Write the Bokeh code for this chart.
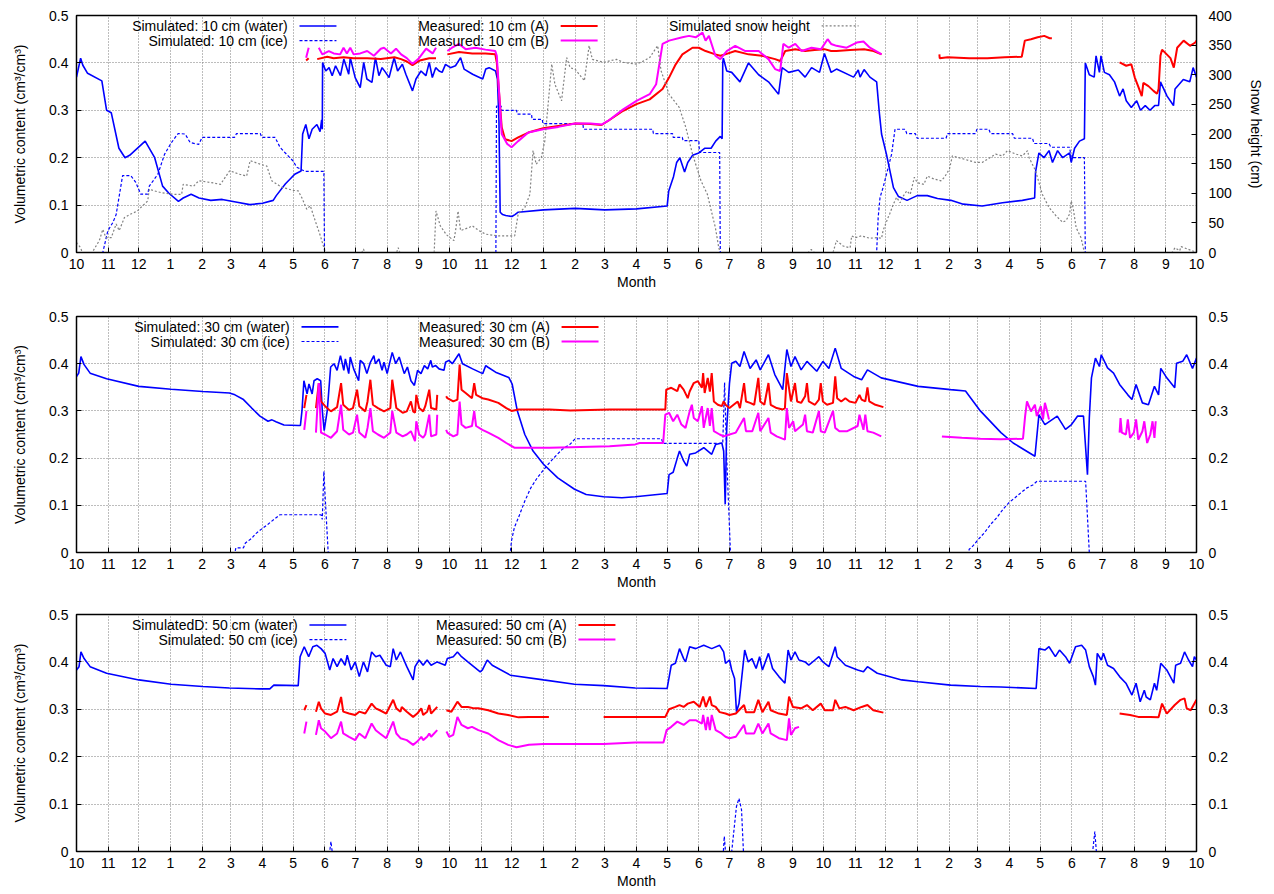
import datetime
import numpy as np
from bokeh.plotting import figure
from bokeh.models import Range1d, LinearAxis, FixedTicker, Label
from bokeh.layouts import column
from bokeh.embed import file_html
from bokeh.resources import INLINE

NAN = float("nan")

# ---------------- axis labels ----------------
MONTH_LABELS = [10, 11, 12, 1, 2, 3, 4, 5, 6, 7, 8, 9,
                10, 11, 12, 1, 2, 3, 4, 5, 6, 7, 8, 9,
                10, 11, 12, 1, 2, 3, 4, 5, 6, 7, 8, 9, 10]
VOL_TICKS = [0, 0.1, 0.2, 0.3, 0.4, 0.5]
SNOW_TICKS = [0, 50, 100, 150, 200, 250, 300, 350, 400]

# ---------------- data: x = months since first October (fractional) ----------------
# Panel 1 : 10 cm
W10_M = [0.0, 0.13, 0.2, 0.35, 0.8, 0.95, 1.1, 1.35, 1.55, 1.7, 2.2, 2.5, 2.75, 2.95, 3.25, 3.4, 3.65, 3.9,
         4.3, 4.7, 5.2, 5.6, 6.0, 6.35, 6.45, 6.75, 7.05, 7.25, 7.3, 7.4, 7.5, 7.6, 7.75, 7.85, 7.9, 7.92,
         7.93, 8.03, 8.14, 8.24, 8.35, 8.51, 8.62, 8.78, 8.83, 8.99, 9.15, 9.26, 9.36, 9.52, 9.63, 9.74,
         9.84, 9.95, 10.06, 10.22, 10.33, 10.48, 10.59, 10.8, 10.91, 11.07, 11.23, 11.34, 11.44, 11.55,
         11.66, 11.76, 11.87, 12.03, 12.19, 12.35, 12.46, 12.73, 13.05, 13.15, 13.26, 13.47, 13.53, 13.58,
         13.62, 13.7, 13.8, 14.0, 14.1, 14.2, 15.0, 16.0, 17.0, 18.0, 19.0, 19.05, 19.2, 19.3, 19.4, 19.55,
         19.65, 19.8, 20.0, 20.2, 20.4, 20.55, 20.7, 20.76, 20.78, 20.8, 20.91, 21.07, 21.33, 21.6, 21.92,
         22.23, 22.55, 22.66, 22.87, 23.18, 23.4, 23.61, 23.87, 24.03, 24.24, 24.41, 24.95, 25.1, 25.16,
         25.29, 25.48, 25.7, 25.78, 25.86, 26.02, 26.24, 26.4, 26.67, 26.99, 27.31, 27.63, 28.06, 28.49,
         29.14, 29.78, 30.42, 30.82, 30.85, 30.96, 31.12, 31.28, 31.39, 31.55, 31.71, 31.93, 31.98, 32.09,
         32.25, 32.41, 32.44, 32.57, 32.73, 32.79, 32.9, 32.95, 33.06, 33.22, 33.38, 33.54, 33.65, 33.75,
         33.91, 34.08, 34.2, 34.35, 34.5, 34.65, 34.77, 34.83, 35.04, 35.25, 35.3, 35.57, 35.78, 35.89,
         36.0]
W10_V = [0.37, 0.41, 0.395, 0.378, 0.362, 0.30, 0.295, 0.22, 0.2, 0.205, 0.235, 0.2, 0.14, 0.125, 0.108,
         0.115, 0.123, 0.115, 0.11, 0.112, 0.106, 0.101, 0.104, 0.11, 0.12, 0.145, 0.165, 0.172, 0.25,
         0.27, 0.24, 0.26, 0.27, 0.255, 0.28, 0.26, 0.401, 0.383, 0.39, 0.373, 0.394, 0.373, 0.408, 0.376,
         0.411, 0.369, 0.348, 0.401, 0.366, 0.359, 0.411, 0.373, 0.39, 0.38, 0.369, 0.411, 0.383, 0.397,
         0.376, 0.341, 0.366, 0.383, 0.373, 0.401, 0.369, 0.39, 0.383, 0.38, 0.397, 0.39, 0.394, 0.411,
         0.387, 0.376, 0.366, 0.387, 0.39, 0.383, 0.366, 0.278, 0.085, 0.08, 0.078, 0.076, 0.08, 0.085,
         0.09, 0.093, 0.09, 0.092, 0.098, 0.13, 0.16, 0.19, 0.2, 0.17, 0.19, 0.205, 0.21, 0.22, 0.22,
         0.235, 0.245, 0.24, 0.40, 0.41, 0.383, 0.38, 0.36, 0.40, 0.375, 0.36, 0.334, 0.39, 0.38, 0.385,
         0.37, 0.39, 0.38, 0.42, 0.38, 0.387, 0.37, 0.385, 0.37, 0.386, 0.37, 0.36, 0.30, 0.25, 0.207,
         0.137, 0.118, 0.11, 0.12, 0.12, 0.114, 0.11, 0.102, 0.098, 0.105, 0.11, 0.115, 0.17, 0.21, 0.2,
         0.215, 0.19, 0.215, 0.2, 0.21, 0.19, 0.22, 0.235, 0.24, 0.40, 0.375, 0.37, 0.415, 0.38, 0.415,
         0.38, 0.375, 0.36, 0.33, 0.345, 0.32, 0.306, 0.32, 0.30, 0.31, 0.30, 0.31, 0.31, 0.36, 0.33,
         0.31, 0.345, 0.365, 0.36, 0.39, 0.37]

I10_M = [0.0, 0.83, 0.99, 1.15, 1.26, 1.47, 1.74, 1.9, 2.06, 2.28, 2.33, 2.6, 2.81, 3.03, 3.24, 3.46,
         3.62, 3.89, 4.0, 5.12, 5.18, 5.93, 5.98, 6.41, 6.57, 6.73, 7.0, 7.11, 7.38, 7.97, 7.99, 13.48,
         13.5, 13.65, 13.67, 14.15, 14.17, 14.62, 14.64, 14.96, 14.98, 16.26, 16.28, 18.53, 18.55, 19.17,
         19.19, 19.48, 19.5, 20.0, 20.02, 20.68, 20.7, 25.7, 25.75, 25.81, 25.91, 26.02, 26.18, 26.29,
         26.61, 26.66, 26.93, 26.99, 27.9, 27.95, 28.92, 28.97, 29.35, 29.4, 30.1, 30.16, 30.75, 30.8,
         31.28, 31.34, 31.93, 31.98, 32.41, 32.44, 36.0]
I10_V = [0, 0, 0.046, 0.063, 0.08, 0.162, 0.162, 0.148, 0.123, 0.123, 0.14, 0.165, 0.207, 0.232, 0.251,
         0.25, 0.232, 0.228, 0.243, 0.243, 0.251, 0.251, 0.243, 0.243, 0.222, 0.211, 0.193, 0.18, 0.171,
         0.171, 0, 0, 0.309, 0.309, 0.30, 0.30, 0.292, 0.292, 0.281, 0.281, 0.272, 0.272, 0.26, 0.26,
         0.251, 0.251, 0.243, 0.243, 0.236, 0.236, 0.211, 0.211, 0, 0, 0.074, 0.116, 0.137, 0.165, 0.207,
         0.26, 0.26, 0.251, 0.251, 0.241, 0.241, 0.251, 0.251, 0.26, 0.26, 0.251, 0.251, 0.241, 0.241,
         0.23, 0.23, 0.222, 0.222, 0.2, 0.2, 0, 0]

SNOW_M = [0.0, 0.13, 0.18, 0.5, 0.56, 0.72, 0.83, 0.93, 1.1, 1.26, 1.36, 1.53, 1.74, 1.95, 2.12, 2.28,
          2.33, 2.49, 2.71, 3.14, 3.35, 3.4, 3.73, 3.89, 4.32, 4.64, 4.96, 5.28, 5.5, 5.61, 5.93, 6.14,
          6.3, 6.63, 7.0, 7.16, 7.27, 7.43, 7.54, 7.7, 7.86, 7.97, 8.02, 9.2, 9.25, 9.3, 10.3, 10.35,
          10.4, 11.5, 11.56, 11.7, 11.9, 12.14, 12.2, 12.27, 12.35, 12.61, 12.72, 12.93, 13.14, 13.56,
          14.09, 14.2, 14.41, 14.57, 14.67, 14.77, 14.93, 15.04, 15.26, 15.36, 15.57, 15.73, 15.84, 16.0,
          16.31, 16.47, 16.58, 16.95, 17.37, 17.58, 18.0, 18.22, 18.43, 18.69, 18.8, 19.06, 19.38, 19.59,
          19.8, 20.07, 20.28, 20.38, 20.54, 20.65, 20.7, 23.5, 23.6, 23.7, 24.3, 24.41, 24.62, 24.84,
          24.89, 25.0, 25.2, 25.48, 25.7, 25.86, 25.91, 26.07, 26.12, 26.24, 26.34, 26.45, 26.56, 26.66,
          26.77, 26.9, 26.99, 27.2, 27.31, 27.52, 27.74, 27.85, 28.01, 28.11, 28.49, 28.92, 29.14, 29.56,
          29.78, 29.94, 30.21, 30.42, 30.59, 30.64, 30.85, 31.07, 31.28, 31.5, 31.71, 31.82, 31.93,
          31.98, 32.04, 32.14, 32.3, 32.41, 35.2, 35.3, 35.45, 35.5, 36.0]
SNOW_V = [17, 8, 0, 0, 6, 20, 39, 25, 25, 48, 37, 59, 65, 70, 79, 87, 107, 104, 101, 98, 98, 115, 112,
          121, 118, 115, 138, 132, 129, 155, 149, 146, 121, 110, 105, 104, 93, 73, 79, 53, 28, 8, 0, 0,
          6, 0, 0, 8, 0, 0, 70, 45, 30, 20, 40, 70, 37, 42, 45, 37, 31, 28, 28, 65, 76, 98, 172, 149,
          160, 188, 318, 284, 256, 329, 312, 309, 290, 349, 326, 321, 326, 321, 318, 323, 329, 349, 307,
          267, 245, 211, 166, 121, 98, 76, 42, 8, 0, 0, 5, 0, 0, 20, 11, 8, 28, 25, 28, 24, 25, 24, 37,
          59, 65, 82, 93, 84, 96, 104, 98, 127, 118, 115, 129, 124, 121, 127, 141, 163, 158, 152, 152,
          166, 163, 172, 166, 163, 172, 160, 138, 98, 76, 62, 51, 54, 65, 87, 76, 42, 25, 0, 0, 8, 3,
          10, 0]

R10_M = [7.41, 7.49, NAN,
         7.76, 8.08, 8.29, 8.61, 8.94, 9.37, 9.8, 10.23, 10.44, 10.62, 10.8, 10.98, 11.03, 11.34, 11.56, NAN,
         11.93, 12.3, 12.72, 13.14, 13.46, 13.51, 13.67, 13.78, 13.99, 14.2, 14.52, 14.99, 15.47, 16.0,
         16.52, 16.89, 17.11, 17.58, 18.0, 18.43, 18.85, 19.06, 19.27, 19.48, 19.8, 20.0, 20.22, 20.54,
         20.7, 20.86, 21.18, 21.6, 22.02, 22.44, 22.6, 22.76, 23.08, 23.4, 23.71, 24.03, 24.24, 24.41,
         24.84, 25.29, 25.6, 25.86, NAN,
         27.69, 27.7, 27.95, 28.7, 29.3, 29.85, 30.4, 30.5, 30.7, 30.92, 31.13, 31.3, 31.37, NAN,
         33.54, 33.75, 33.91, 34.02, 34.13, 34.24, 34.29, 34.45, 34.61, 34.72, 34.77, 34.83, 34.88,
         35.15, 35.26, 35.37, 35.58, 35.79, 35.96, 36.0]
R10_V = [0.405, 0.41, NAN,
         0.408, 0.413, 0.41, 0.412, 0.41, 0.41, 0.408, 0.412, 0.408, 0.403, 0.395, 0.403, 0.405, 0.41,
         0.41, NAN,
         0.418, 0.423, 0.42, 0.42, 0.418, 0.40, 0.264, 0.239, 0.235, 0.243, 0.253, 0.262, 0.267, 0.272,
         0.271, 0.269, 0.278, 0.299, 0.313, 0.323, 0.345, 0.369, 0.397, 0.418, 0.432, 0.432, 0.425,
         0.418, 0.415, 0.418, 0.425, 0.418, 0.415, 0.408, 0.404, 0.425, 0.429, 0.425, 0.427, 0.429,
         0.425, 0.425, 0.427, 0.429, 0.425, 0.418, NAN,
         0.418, 0.41, 0.412, 0.41, 0.41, 0.412, 0.413, 0.447, 0.45, 0.454, 0.457, 0.452, 0.452, NAN,
         0.401, 0.394, 0.397, 0.369, 0.35, 0.33, 0.358, 0.351, 0.341, 0.335, 0.345, 0.415, 0.428, 0.41,
         0.39, 0.432, 0.447, 0.436, 0.443, 0.447]

B10_M = [7.41, 7.49, NAN,
         7.81, 7.92, 8.13, 8.29, 8.5, 8.61, 8.72, 8.83, 8.94, 9.15, 9.37, 9.58, 9.8, 9.9, 10.12, 10.28,
         10.44, 10.62, 10.8, 10.98, 11.03, 11.24, 11.45, 11.56, NAN,
         11.93, 12.08, 12.3, 12.51, 12.82, 13.14, 13.46, 13.51, 13.67, 13.85, 13.99, 14.2, 14.52, 14.99,
         15.47, 16.0, 16.52, 16.89, 17.11, 17.58, 18.0, 18.43, 18.64, 18.85, 19.06, 19.48, 19.69, 19.9,
         20.12, 20.22, 20.33, 20.54, 20.7, 20.91, 21.18, 21.5, 21.92, 22.23, 22.44, 22.6, 22.7, 22.87,
         23.08, 23.29, 23.61, 23.92, 24.13, 24.24, 24.41, 24.73, 25.05, 25.27, 25.48, 25.81, 25.86]
B10_V = [0.411, 0.432, NAN,
         0.432, 0.418, 0.425, 0.42, 0.418, 0.432, 0.42, 0.432, 0.418, 0.42, 0.425, 0.415, 0.43, 0.432,
         0.42, 0.43, 0.418, 0.41, 0.398, 0.408, 0.412, 0.43, 0.42, 0.432, NAN,
         0.425, 0.432, 0.44, 0.429, 0.432, 0.428, 0.425, 0.415, 0.25, 0.229, 0.222, 0.235, 0.253, 0.26,
         0.265, 0.272, 0.272, 0.27, 0.278, 0.302, 0.32, 0.334, 0.355, 0.44, 0.447, 0.454, 0.457, 0.454,
         0.464, 0.447, 0.457, 0.415, 0.408, 0.425, 0.436, 0.425, 0.425, 0.408, 0.387, 0.383, 0.44,
         0.432, 0.44, 0.425, 0.432, 0.429, 0.45, 0.44, 0.436, 0.432, 0.443, 0.445, 0.432, 0.42, 0.418]

# Panel 2 : 30 cm
W30_M = [0.0, 0.07, 0.14, 0.24, 0.43, 0.95, 2.0, 3.02, 4.02, 4.95, 5.13, 5.4, 5.66, 5.92, 6.18, 6.31,
         6.44, 6.7, 7.17, 7.23, 7.28, 7.34, 7.44, 7.5, 7.6, 7.66, 7.76, 7.87, 7.92, 7.98, 8.08, 8.19, 8.3,
         8.4, 8.51, 8.62, 8.67, 8.78, 8.83, 8.94, 9.1, 9.15, 9.26, 9.36, 9.47, 9.58, 9.63, 9.74, 9.84,
         9.9, 10.0, 10.16, 10.27, 10.38, 10.54, 10.64, 10.75, 10.86, 10.96, 11.07, 11.18, 11.29, 11.39,
         11.44, 11.55, 11.66, 11.82, 11.87, 11.98, 12.09, 12.19, 12.3, 12.41, 12.73, 13.05, 13.15, 13.21,
         13.47, 13.9, 14.01, 14.17, 14.41, 14.67, 15.0, 15.45, 15.98, 16.37, 16.96, 17.54,
         17.96, 19.0, 19.06, 19.19, 19.32, 19.39, 19.52, 19.62, 19.71, 19.9, 20.16, 20.42, 20.55, 20.75,
         20.81, 20.86, 20.91, 21.0, 21.07, 21.2, 21.33, 21.46, 21.65, 21.84, 21.97, 22.23, 22.43, 22.68,
         22.81, 22.94, 23.07, 23.27, 23.46, 23.78, 23.98, 24.17, 24.37, 24.56, 24.95, 25.21, 25.4,
         25.85, 27.02, 28.05, 28.57, 29.08, 29.73, 30.12, 30.83, 30.96, 31.15, 31.54, 31.8, 31.99,
         32.19, 32.38, 32.45, 32.51, 32.57, 32.64, 32.77, 32.9, 32.96, 33.16, 33.35, 33.54, 33.8, 33.93,
         34.06, 34.26, 34.45, 34.64, 34.77, 34.84, 35.03, 35.29, 35.35, 35.55, 35.68, 35.87, 36.0]
W30_V = [0.373, 0.38, 0.415, 0.398, 0.38, 0.368, 0.352, 0.346, 0.341, 0.338, 0.334, 0.324, 0.306,
         0.289, 0.278, 0.281, 0.277, 0.27, 0.269, 0.269, 0.301, 0.364, 0.336, 0.357, 0.336, 0.364, 0.368,
         0.364, 0.301, 0.258, 0.301, 0.393, 0.4, 0.386, 0.417, 0.386, 0.41, 0.379, 0.414, 0.389, 0.364,
         0.407, 0.4, 0.379, 0.403, 0.417, 0.4, 0.41, 0.386, 0.403, 0.379, 0.424, 0.4, 0.414, 0.379,
         0.393, 0.364, 0.354, 0.386, 0.379, 0.396, 0.389, 0.407, 0.393, 0.396, 0.389, 0.386, 0.403,
         0.407, 0.4, 0.41, 0.421, 0.4, 0.389, 0.379, 0.396, 0.393, 0.382, 0.371, 0.357, 0.301, 0.25,
         0.215, 0.187, 0.158, 0.134, 0.123, 0.118, 0.116, 0.118, 0.125, 0.165, 0.17, 0.2, 0.215, 0.194,
         0.183, 0.208, 0.211, 0.222, 0.208, 0.229, 0.232, 0.215, 0.102, 0.264, 0.359, 0.401, 0.405,
         0.394, 0.426, 0.39, 0.408, 0.387, 0.419, 0.377, 0.345, 0.43, 0.394, 0.415, 0.387, 0.405, 0.384,
         0.405, 0.39, 0.433, 0.39, 0.373, 0.366, 0.387, 0.37, 0.352, 0.345, 0.342, 0.30, 0.254, 0.232,
         0.204, 0.292, 0.271, 0.289, 0.261, 0.271, 0.289, 0.289, 0.222, 0.165, 0.285, 0.37, 0.412, 0.394,
         0.419, 0.391, 0.38, 0.356, 0.334, 0.324, 0.356, 0.317, 0.313, 0.352, 0.334, 0.39, 0.37, 0.349,
         0.401, 0.405, 0.419, 0.39, 0.412]

I30_M = [0.0, 5.13, 5.16, 5.4, 5.46, 5.66, 5.79, 5.98, 6.18, 6.37, 6.57, 7.88, 7.92, 7.97, 8.03, 8.11,
         13.95, 13.99, 14.08, 14.21, 14.41, 14.6, 14.8, 15.06, 15.32, 15.58, 15.85, 16.0, 18.81, 18.87,
         20.78, 20.84, 20.91, 21.03, 28.67, 28.7, 28.83, 29.02, 29.21, 29.41, 29.6, 29.8, 29.99, 30.18,
         30.38, 30.57, 30.76, 30.9, 32.45, 32.57, 36.0]
I30_V = [0, 0, 0.01, 0.01, 0.02, 0.03, 0.04, 0.05, 0.06, 0.07, 0.08, 0.08, 0.07, 0.172, 0.095, 0,
         0, 0.025, 0.053, 0.074, 0.109, 0.137, 0.158, 0.18, 0.2, 0.218, 0.23, 0.241, 0.241, 0.231,
         0.231, 0.36, 0.2, 0, 0, 0.007, 0.014, 0.028, 0.042, 0.06, 0.074, 0.092, 0.106, 0.116, 0.127,
         0.137, 0.143, 0.151, 0.151, 0, 0]

R30_M = [7.35, 7.42, NAN,
         7.72, 7.81, 7.88, 8.01, 8.2, 8.4, 8.53, 8.6, 8.79, 8.92, 9.05, 9.12, 9.31, 9.38, 9.47, 9.55,
         9.71, 9.9, 10.1, 10.16, 10.29, 10.49, 10.62, 10.75, 10.82, 10.88, 10.92, 11.01, 11.14, 11.21,
         11.34, 11.4, 11.57, 11.6, NAN,
         11.89, 11.93, 12.12, 12.25, 12.32, 12.38, 12.51, 12.71, 12.78, 12.84, 13.04, 13.23, 13.56,
         13.82, 13.99, 14.21, 14.54, 15.19, 15.85, 17.15, 18.1, 18.94, 18.97, 19.13, 19.32, 19.39,
         19.52, 19.65, 19.71, 19.84, 19.97, 20.1, 20.14, 20.19, 20.29, 20.36, 20.42, 20.49, 20.62,
         20.75, 20.81, 20.87, 21.0, 21.13, 21.26, 21.33, 21.46, 21.52, 21.65, 21.78, 21.91, 21.97, 22.1,
         22.23, 22.3, 22.49, 22.68, 22.75, 22.81, 22.94, 23.07, 23.14, 23.27, 23.4, 23.46, 23.52, 23.72,
         23.85, 23.91, 23.98, 24.11, 24.3, 24.37, 24.43, 24.56, 24.69, 24.82, 25.01, 25.14, 25.21,
         25.33, 25.4, 25.46, 25.66, 25.92]
R30_V = [0.306, 0.334, NAN,
         0.306, 0.359, 0.32, 0.31, 0.299, 0.308, 0.359, 0.313, 0.302, 0.306, 0.345, 0.31, 0.299, 0.32,
         0.366, 0.313, 0.306, 0.299, 0.306, 0.366, 0.306, 0.296, 0.299, 0.32, 0.299, 0.296, 0.334,
         0.306, 0.299, 0.31, 0.345, 0.306, 0.303, 0.334, NAN,
         0.331, 0.327, 0.32, 0.324, 0.398, 0.345, 0.338, 0.327, 0.359, 0.334, 0.327, 0.324, 0.317,
         0.306, 0.30, 0.303, 0.303, 0.303, 0.301, 0.303, 0.303, 0.303, 0.345, 0.349, 0.342, 0.356,
         0.345, 0.327, 0.341, 0.359, 0.363, 0.349, 0.38, 0.338, 0.37, 0.341, 0.38, 0.32, 0.313, 0.31,
         0.32, 0.313, 0.306, 0.313, 0.32, 0.306, 0.359, 0.32, 0.317, 0.313, 0.37, 0.32, 0.313, 0.359,
         0.313, 0.306, 0.303, 0.306, 0.38, 0.32, 0.359, 0.32, 0.317, 0.331, 0.359, 0.32, 0.313, 0.324,
         0.359, 0.32, 0.313, 0.317, 0.373, 0.327, 0.32, 0.327, 0.32, 0.317, 0.334, 0.324, 0.32, 0.35,
         0.32, 0.313, 0.308]

B30_M = [7.35, 7.42, NAN,
         7.72, 7.81, 7.88, 8.01, 8.2, 8.4, 8.53, 8.6, 8.79, 8.92, 9.05, 9.12, 9.31, 9.38, 9.47, 9.55,
         9.71, 9.9, 10.1, 10.16, 10.29, 10.49, 10.62, 10.75, 10.88, 10.92, 11.01, 11.14, 11.21, 11.34,
         11.4, 11.57, 11.6, NAN,
         11.89, 11.93, 12.12, 12.25, 12.32, 12.38, 12.51, 12.71, 12.78, 12.84, 13.04, 13.23, 13.56,
         13.82, 14.08, 14.54, 15.19, 15.85, 16.5, 17.15, 17.96, 18.1, 18.87, 18.94, 19.06, 19.19, 19.32,
         19.45, 19.58, 19.71, 19.78, 19.84, 19.97, 20.1, 20.16, 20.29, 20.36, 20.42, 20.49, 20.68,
         20.81, 21.0, 21.2, 21.46, 21.52, 21.72, 21.91, 21.97, 22.23, 22.3, 22.49, 22.75, 22.81, 22.88,
         23.01, 23.07, 23.33, 23.4, 23.46, 23.65, 23.85, 23.91, 24.04, 24.3, 24.37, 24.5, 24.75, 25.08,
         25.14, 25.27, 25.33, 25.4, 25.59, 25.85, NAN,
         27.77, 28.44, 29.08, 29.73, 30.44, 30.51, 30.57, 30.7, 30.83, 30.89, 31.02, 31.09, 31.15,
         31.22, 31.28, NAN,
         33.54, 33.57, 33.61, 33.74, 33.8, 33.87, 33.99, 34.06, 34.13, 34.26, 34.32, 34.41, 34.51,
         34.58, 34.64, 34.68]
B30_V = [0.26, 0.30, NAN,
         0.254, 0.359, 0.254, 0.25, 0.243, 0.257, 0.313, 0.26, 0.25, 0.254, 0.292, 0.254, 0.243, 0.264,
         0.306, 0.257, 0.25, 0.243, 0.254, 0.30, 0.254, 0.246, 0.25, 0.257, 0.236, 0.278, 0.25, 0.243,
         0.25, 0.292, 0.246, 0.25, 0.292, NAN,
         0.26, 0.254, 0.246, 0.25, 0.32, 0.271, 0.264, 0.268, 0.30, 0.268, 0.26, 0.254, 0.243, 0.232,
         0.222, 0.222, 0.222, 0.223, 0.224, 0.225, 0.229, 0.232, 0.232, 0.292, 0.296, 0.278, 0.292,
         0.271, 0.264, 0.299, 0.313, 0.285, 0.278, 0.31, 0.264, 0.306, 0.268, 0.306, 0.257, 0.25,
         0.246, 0.25, 0.254, 0.285, 0.257, 0.257, 0.296, 0.257, 0.285, 0.254, 0.246, 0.239, 0.306,
         0.264, 0.278, 0.257, 0.271, 0.292, 0.257, 0.254, 0.30, 0.257, 0.254, 0.30, 0.264, 0.257, 0.257,
         0.268, 0.292, 0.26, 0.292, 0.257, 0.254, 0.246, NAN,
         0.246, 0.243, 0.241, 0.24, 0.241, 0.289, 0.32, 0.299, 0.313, 0.289, 0.31, 0.282, 0.317, 0.299,
         0.282, NAN,
         0.254, 0.285, 0.254, 0.25, 0.282, 0.243, 0.254, 0.282, 0.239, 0.257, 0.278, 0.232, 0.25,
         0.278, 0.243, 0.278]

# Panel 3 : 50 cm
W50_M = [0.0, 0.08, 0.14, 0.24, 0.43, 0.95, 2.0, 3.02, 4.02, 4.95, 5.92, 6.24, 6.37, 7.16, 7.22, 7.35,
         7.49, 7.62, 7.75, 7.88, 8.01, 8.16, 8.27, 8.4, 8.53, 8.66, 8.73, 8.86, 8.99, 9.12, 9.25, 9.38,
         9.51, 9.64, 9.77, 9.97, 10.1, 10.19, 10.29, 10.42, 10.62, 10.82, 10.88, 11.01, 11.14, 11.27,
         11.4, 11.6, 11.86, 11.93, 12.12, 12.25, 12.38, 12.58, 12.97, 13.04, 13.2, 13.36, 13.95, 15.0,
         15.98, 16.96, 17.96, 19.0, 19.13, 19.26, 19.39, 19.52, 19.58, 19.71, 19.9, 20.16, 20.42, 20.68,
         20.81, 20.87, 21.0, 21.07, 21.16, 21.22, 21.3, 21.39, 21.48, 21.59, 21.71, 21.84, 21.95, 22.04,
         22.23, 22.36, 22.56, 22.75, 22.85, 22.94, 23.07, 23.2, 23.4, 23.52, 23.72, 23.85, 23.98, 24.17,
         24.37, 24.43, 24.69, 25.08, 25.27, 25.4, 25.72, 26.5, 27.02, 28.05, 29.08, 29.73, 30.87, 30.96,
         31.15, 31.28, 31.48, 31.61, 31.8, 31.93, 32.12, 32.32, 32.45, 32.57, 32.7, 32.77, 32.83, 32.96,
         33.03, 33.16, 33.35, 33.54, 33.74, 33.93, 34.06, 34.19, 34.32, 34.38, 34.51, 34.64, 34.71,
         34.84, 35.03, 35.26, 35.32, 35.48, 35.61, 35.74, 35.87, 35.93, 36.0]
W50_V = [0.383, 0.39, 0.421, 0.407, 0.39, 0.376, 0.362, 0.353, 0.348, 0.345, 0.343, 0.343, 0.351,
         0.35, 0.411, 0.432, 0.411, 0.432, 0.435, 0.428, 0.418, 0.383, 0.407, 0.39, 0.407, 0.393,
         0.414, 0.383, 0.40, 0.369, 0.40, 0.379, 0.421, 0.411, 0.414, 0.393, 0.39, 0.428, 0.404, 0.421,
         0.39, 0.362, 0.39, 0.404, 0.393, 0.404, 0.393, 0.40, 0.393, 0.407, 0.411, 0.421, 0.411, 0.40,
         0.379, 0.383, 0.404, 0.393, 0.372, 0.362, 0.353, 0.35, 0.345, 0.344, 0.393, 0.397, 0.428,
         0.407, 0.40, 0.432, 0.428, 0.435, 0.428, 0.435, 0.421, 0.397, 0.404, 0.383, 0.365, 0.295,
         0.312, 0.369, 0.425, 0.40, 0.407, 0.386, 0.411, 0.383, 0.418, 0.386, 0.369, 0.355, 0.425,
         0.404, 0.421, 0.404, 0.40, 0.393, 0.404, 0.411, 0.40, 0.39, 0.432, 0.411, 0.393, 0.383, 0.379,
         0.39, 0.376, 0.362, 0.358, 0.351, 0.348, 0.347, 0.344, 0.428, 0.425, 0.432, 0.411, 0.425,
         0.411, 0.397, 0.432, 0.435, 0.425, 0.39, 0.369, 0.351, 0.418, 0.404, 0.418, 0.393, 0.386,
         0.369, 0.355, 0.33, 0.355, 0.316, 0.34, 0.326, 0.32, 0.355, 0.34, 0.397, 0.383, 0.355, 0.393,
         0.397, 0.421, 0.404, 0.39, 0.411, 0.404]

I50_M = [0.0, 8.16, 8.2, 8.24, 20.8, 20.83, 20.87, 21.07, 21.22, 21.3, 21.38, 21.44, 32.68, 32.75,
         32.8, 36.0]
I50_V = [0, 0, 0.021, 0, 0, 0.032, 0, 0, 0.095, 0.112, 0.088, 0, 0, 0.042, 0, 0]

R50_M = [7.35, 7.42, NAN,
         7.72, 7.81, 7.88, 8.01, 8.2, 8.4, 8.53, 8.6, 8.79, 8.99, 9.12, 9.31, 9.51, 9.64, 9.77, 9.97,
         10.19, 10.29, 10.42, 10.46, 10.62, 10.82, 10.95, 11.08, 11.14, 11.27, 11.34, 11.4, 11.6, NAN,
         11.9, 12.06, 12.25, 12.38, 12.58, 12.78, 12.91, 13.23, 13.56, 13.88, 14.21, 14.54, 15.17, NAN,
         16.96, 17.96, 18.94, 19.06, 19.26, 19.39, 19.52, 19.65, 19.84, 20.03, 20.14, 20.23, 20.36,
         20.42, 20.55, 20.68, 20.87, 21.0, 21.2, 21.46, 21.52, 21.78, 21.91, 22.04, 22.23, 22.3, 22.56,
         22.81, 22.88, 23.0, 23.27, 23.46, 23.65, 23.91, 24.04, 24.3, 24.37, 24.5, 24.69, 24.95, 25.21,
         25.4, 25.59, 25.92, NAN,
         33.54, 33.87, 34.13, 34.51, 34.77, 34.88, 35.03, 35.29, 35.48, 35.61, 35.68, 35.81, 36.0]
R50_V = [0.298, 0.309, NAN,
         0.295, 0.316, 0.302, 0.291, 0.288, 0.295, 0.326, 0.295, 0.291, 0.288, 0.295, 0.291, 0.312,
         0.302, 0.298, 0.291, 0.32, 0.302, 0.295, 0.305, 0.295, 0.284, 0.291, 0.302, 0.288, 0.295,
         0.309, 0.291, 0.305, NAN,
         0.298, 0.295, 0.316, 0.305, 0.305, 0.302, 0.302, 0.298, 0.291, 0.288, 0.283, 0.284, 0.284, NAN,
         0.284, 0.284, 0.284, 0.30, 0.305, 0.309, 0.305, 0.312, 0.316, 0.305, 0.327, 0.305, 0.327,
         0.309, 0.305, 0.294, 0.291, 0.288, 0.291, 0.309, 0.294, 0.294, 0.32, 0.294, 0.316, 0.298,
         0.291, 0.288, 0.327, 0.305, 0.302, 0.309, 0.298, 0.312, 0.298, 0.298, 0.32, 0.302, 0.305,
         0.298, 0.305, 0.309, 0.298, 0.293, NAN,
         0.291, 0.288, 0.284, 0.284, 0.283, 0.312, 0.291, 0.309, 0.32, 0.323, 0.302, 0.298, 0.32]

B50_M = [7.35, 7.42, NAN,
         7.72, 7.81, 7.88, 8.01, 8.2, 8.4, 8.53, 8.6, 8.79, 8.99, 9.12, 9.31, 9.51, 9.64, 9.77, 9.97,
         10.19, 10.29, 10.42, 10.62, 10.82, 10.95, 11.08, 11.14, 11.27, 11.34, 11.4, 11.6, NAN,
         11.9, 11.99, 12.12, 12.25, 12.38, 12.58, 12.71, 12.91, 13.23, 13.56, 13.88, 14.15, 14.54, 15.0,
         15.98, 16.96, 17.96, 18.88, 18.98, 19.13, 19.32, 19.52, 19.71, 19.9, 20.1, 20.14, 20.23, 20.29,
         20.36, 20.42, 20.55, 20.74, 20.87, 21.0, 21.2, 21.46, 21.52, 21.78, 21.91, 22.04, 22.23, 22.3,
         22.56, 22.81, 22.88, 22.94, 23.07, 23.2]
B50_V = [0.249, 0.274, NAN,
         0.246, 0.277, 0.26, 0.253, 0.239, 0.249, 0.274, 0.249, 0.242, 0.235, 0.249, 0.239, 0.27,
         0.256, 0.249, 0.239, 0.274, 0.249, 0.239, 0.235, 0.225, 0.232, 0.242, 0.235, 0.242, 0.249,
         0.242, 0.256, NAN,
         0.253, 0.242, 0.246, 0.284, 0.267, 0.26, 0.263, 0.256, 0.249, 0.235, 0.225, 0.22, 0.225,
         0.227, 0.227, 0.227, 0.23, 0.23, 0.256, 0.263, 0.274, 0.267, 0.277, 0.277, 0.27, 0.288, 0.256,
         0.284, 0.256, 0.288, 0.256, 0.249, 0.242, 0.239, 0.242, 0.267, 0.249, 0.249, 0.27, 0.249,
         0.27, 0.249, 0.239, 0.235, 0.281, 0.246, 0.26, 0.263]

# ---------------- helpers ----------------
START = datetime.date(2010, 10, 1)
MONTH_DAYS = []
for k in range(37):
    yy = 2010 + (9 + k) // 12
    mm = (9 + k) % 12 + 1
    MONTH_DAYS.append((datetime.date(yy, mm, 1) - START).days)
X_END = MONTH_DAYS[-1]


def to_days(months):
    arr = np.array(months, dtype=float)
    out = np.full(arr.shape, np.nan)
    ok = ~np.isnan(arr)
    out[ok] = np.interp(arr[ok], np.arange(37), MONTH_DAYS)
    return out


FONT = "Liberation Sans"
FS = "14px"
BLUE = "#0000ff"
RED = "#ff0000"
MAGENTA = "#ff00ff"
GREY = "#808080"

STYLE_WATER = dict(line_color=BLUE, line_width=1.6)
STYLE_ICE = dict(line_color=BLUE, line_width=1.2, line_dash="3 2")
STYLE_A = dict(line_color=RED, line_width=2.0)
STYLE_B = dict(line_color=MAGENTA, line_width=2.0)
STYLE_SNOW = dict(line_color=GREY, line_width=1.2, line_dash="2 2")

VOL_OVERRIDES = {t: ("0" if t == 0 else str(t)) for t in VOL_TICKS}
MONTH_OVERRIDES = {d: str(l) for d, l in zip(MONTH_DAYS, MONTH_LABELS)}


def style_axis(ax, tick_standoff, label_standoff):
    ax.major_label_text_font = FONT
    ax.major_label_text_font_size = FS
    ax.major_label_text_color = "black"
    ax.axis_label_text_font = FONT
    ax.axis_label_text_font_size = FS
    ax.axis_label_text_font_style = "normal"
    ax.axis_label_text_color = "black"
    ax.major_tick_in = 5
    ax.major_tick_out = 0
    ax.minor_tick_line_color = None
    ax.axis_line_color = "black"
    ax.major_label_standoff = tick_standoff
    ax.axis_label_standoff = label_standoff


def make_panel(height, top, bottom, snow=False):
    p = figure(width=1266, height=height, output_backend="svg", toolbar_location=None,
               x_range=Range1d(0, X_END), y_range=Range1d(0, 0.5),
               min_border_left=76, min_border_right=66, min_border_top=top,
               min_border_bottom=bottom)
    p.background_fill_color = "white"
    p.border_fill_color = "white"
    p.outline_line_color = "black"
    p.outline_line_width = 1.5
    p.xaxis.ticker = FixedTicker(ticks=MONTH_DAYS)
    p.xaxis.major_label_overrides = MONTH_OVERRIDES
    p.xaxis.axis_label = "Month"
    p.yaxis.ticker = FixedTicker(ticks=VOL_TICKS)
    p.yaxis.major_label_overrides = VOL_OVERRIDES
    p.yaxis.axis_label = "Volumetric content (cm³/cm³)"
    for g in (p.xgrid, p.ygrid):
        g.grid_line_color = "#7a7a7a"
        g.grid_line_dash = "1 2"
        g.grid_line_width = 1
    p.xgrid.ticker = FixedTicker(ticks=MONTH_DAYS)
    p.ygrid.ticker = FixedTicker(ticks=VOL_TICKS)
    if snow:
        p.extra_y_ranges = {"snow": Range1d(0, 400)}
        rax = LinearAxis(y_range_name="snow", ticker=FixedTicker(ticks=SNOW_TICKS),
                         axis_label="Snow height (cm)")
        rax.axis_label_orientation = "vertical"
    else:
        rax = LinearAxis(ticker=FixedTicker(ticks=VOL_TICKS))
        rax.major_label_overrides = VOL_OVERRIDES
    p.add_layout(rax, "right")
    for ax in p.xaxis:
        style_axis(ax, 6, 2)
    for ax in p.yaxis:
        style_axis(ax, 8, 18)
    style_axis(rax, 12, 13)
    return p


def legend_entry(p, x_text_frac, y_val, text, style, sample_len_frac=0.033):
    x_text = X_END * x_text_frac
    p.add_layout(Label(x=x_text, y=y_val, text=text, text_align="right", text_baseline="middle",
                       text_font=FONT, text_font_size=FS, text_color="black"))
    x0 = x_text + X_END * 0.0105
    x1 = x0 + X_END * sample_len_frac
    p.line([x0, x1], [y_val, y_val], **style)


ROW1, ROW2 = 0.478, 0.447


def draw_series(p, wm, wv, im, iv, am, av, bm, bv):
    p.line(to_days(wm), wv, **STYLE_WATER)
    p.line(to_days(im), iv, **STYLE_ICE)
    p.line(to_days(am), av, **STYLE_A)
    p.line(to_days(bm), bv, **STYLE_B)


# Panel 1
p1 = make_panel(294, 15, 42, snow=True)
draw_series(p1, W10_M, W10_V, I10_M, I10_V, R10_M, R10_V, B10_M, B10_V)
p1.line(to_days(SNOW_M), SNOW_V, y_range_name="snow", **STYLE_SNOW)
legend_entry(p1, 0.1886, ROW1, "Simulated: 10 cm (water)", STYLE_WATER)
legend_entry(p1, 0.1886, ROW2, "Simulated: 10 cm (ice)", STYLE_ICE)
legend_entry(p1, 0.4218, ROW1, "Measured: 10 cm (A)", STYLE_A)
legend_entry(p1, 0.4218, ROW2, "Measured: 10 cm (B)", STYLE_B)
legend_entry(p1, 0.6548, ROW1, "Simulated snow height", STYLE_SNOW)

# Panel 2
p2 = make_panel(300, 22, 42)
draw_series(p2, W30_M, W30_V, I30_M, I30_V, R30_M, R30_V, B30_M, B30_V)
legend_entry(p2, 0.1904, ROW1, "Simulated: 30 cm (water)", STYLE_WATER)
legend_entry(p2, 0.1904, ROW2, "Simulated: 30 cm (ice)", STYLE_ICE)
legend_entry(p2, 0.4226, ROW1, "Measured: 30 cm (A)", STYLE_A)
legend_entry(p2, 0.4226, ROW2, "Measured: 30 cm (B)", STYLE_B)

# Panel 3
p3 = make_panel(299, 20, 42)
draw_series(p3, W50_M, W50_V, I50_M, I50_V, R50_M, R50_V, B50_M, B50_V)
legend_entry(p3, 0.1975, ROW1, "SimulatedD: 50 cm (water)", STYLE_WATER)
legend_entry(p3, 0.1975, ROW2, "Simulated: 50 cm (ice)", STYLE_ICE)
legend_entry(p3, 0.4377, ROW1, "Measured: 50 cm (A)", STYLE_A)
legend_entry(p3, 0.4377, ROW2, "Measured: 50 cm (B)", STYLE_B)

layout = column(p1, p2, p3, spacing=0)
open("out.html", "w").write(file_html(layout, INLINE))
